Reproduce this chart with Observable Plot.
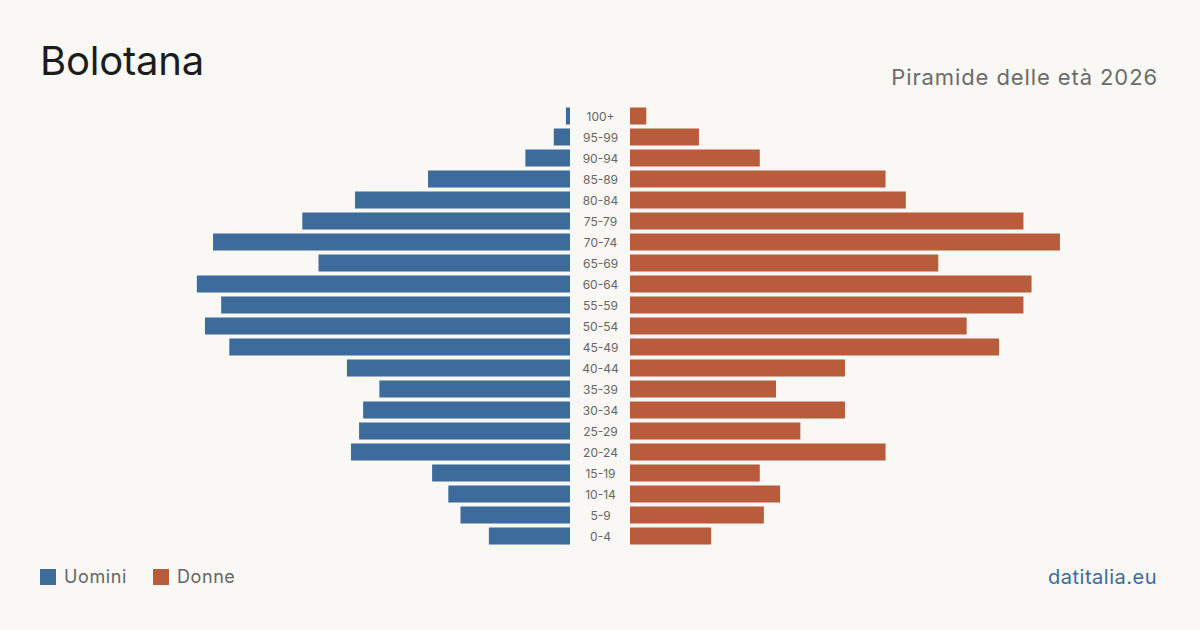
<!DOCTYPE html>
<html><head><meta charset="utf-8">
<script src="https://cdn.jsdelivr.net/npm/d3@7"></script>
<script src="https://cdn.jsdelivr.net/npm/@observablehq/plot@0.6"></script>
<style>
html,body{margin:0;padding:0;background:#f9f8f4;}
#wrap{position:relative;width:1200px;height:630px;background:#f9f8f4;font-family:Inter,"Open Sans",sans-serif;overflow:hidden;}
#title{position:absolute;left:40px;top:41px;font-size:40px;color:#1c1c1c;letter-spacing:-0.2px;line-height:1;}
#sub{position:absolute;right:42px;top:66px;font-size:22px;color:#6b6b6b;line-height:1;letter-spacing:0.9px;}
#chart{position:absolute;left:0;top:90px;}
#legend{position:absolute;left:40px;top:566px;font-size:18px;color:#666;display:flex;align-items:center;letter-spacing:0.6px;}
#legend span.sw{display:inline-block;width:16px;height:16px;margin-right:8px;}
#legend .it{display:flex;align-items:center;margin-right:26px;}
#src{position:absolute;right:43px;top:565px;font-size:20px;color:#3d6b9c;letter-spacing:0.5px;}
</style></head>
<body><div id="wrap">
<div id="title">Bolotana</div>
<div id="sub">Piramide delle età 2026</div>
<div id="chart"></div>
<div id="legend"><div class="it"><span class="sw" style="background:#3d6b9c"></span>Uomini</div><div class="it"><span class="sw" style="background:#b85c3c"></span>Donne</div></div>
<div id="src">datitalia.eu</div>
</div>
<script>
const ages = ["100+","95-99","90-94","85-89","80-84","75-79","70-74","65-69","60-64","55-59","50-54","45-49","40-44","35-39","30-34","25-29","20-24","15-19","10-14","5-9","0-4"];
const men   = [1,4,11,35,53,66,88,62,92,86,90,84,55,47,51,52,54,34,30,27,20];
const women = [4,17,32,63,68,97,106,76,99,97,83,91,53,36,53,42,63,32,37,33,20];
const seriesNames = ["Uomini","Donne"];
const colors = ["#3d6b9c","#b85c3c"];

const rows = [];
ages.forEach((a,i)=>{
  rows.push({age:a, sex:seriesNames[0], v:-men[i]});
  rows.push({age:a, sex:seriesNames[1], v:women[i]});
});

const plot = Plot.plot({
  width:1200, height:470,
  marginTop:15.5, marginBottom:13.5, marginLeft:0, marginRight:0,
  style:{background:"transparent", fontFamily:"Inter, 'Open Sans', sans-serif"},
  x:{domain:[-100,100], range:[600-405.6, 600+405.6], axis:null},
  y:{domain:ages, paddingInner:0.19, paddingOuter:0.095, round:false, axis:null},
  color:{domain:seriesNames, range:colors},
  marks:[
    Plot.barX(rows.filter(d=>d.v<0), {x1:0, x2:"v", y:"age", fill:"sex", dx:-30}),
    Plot.barX(rows.filter(d=>d.v>0), {x1:0, x2:"v", y:"age", fill:"sex", dx:30}),
    Plot.text(ages, {x:0, y:d=>d, text:d=>d, fontSize:12, fill:"#666", dy:1})
  ]
});
document.getElementById("chart").appendChild(plot);
</script>
</body></html>
